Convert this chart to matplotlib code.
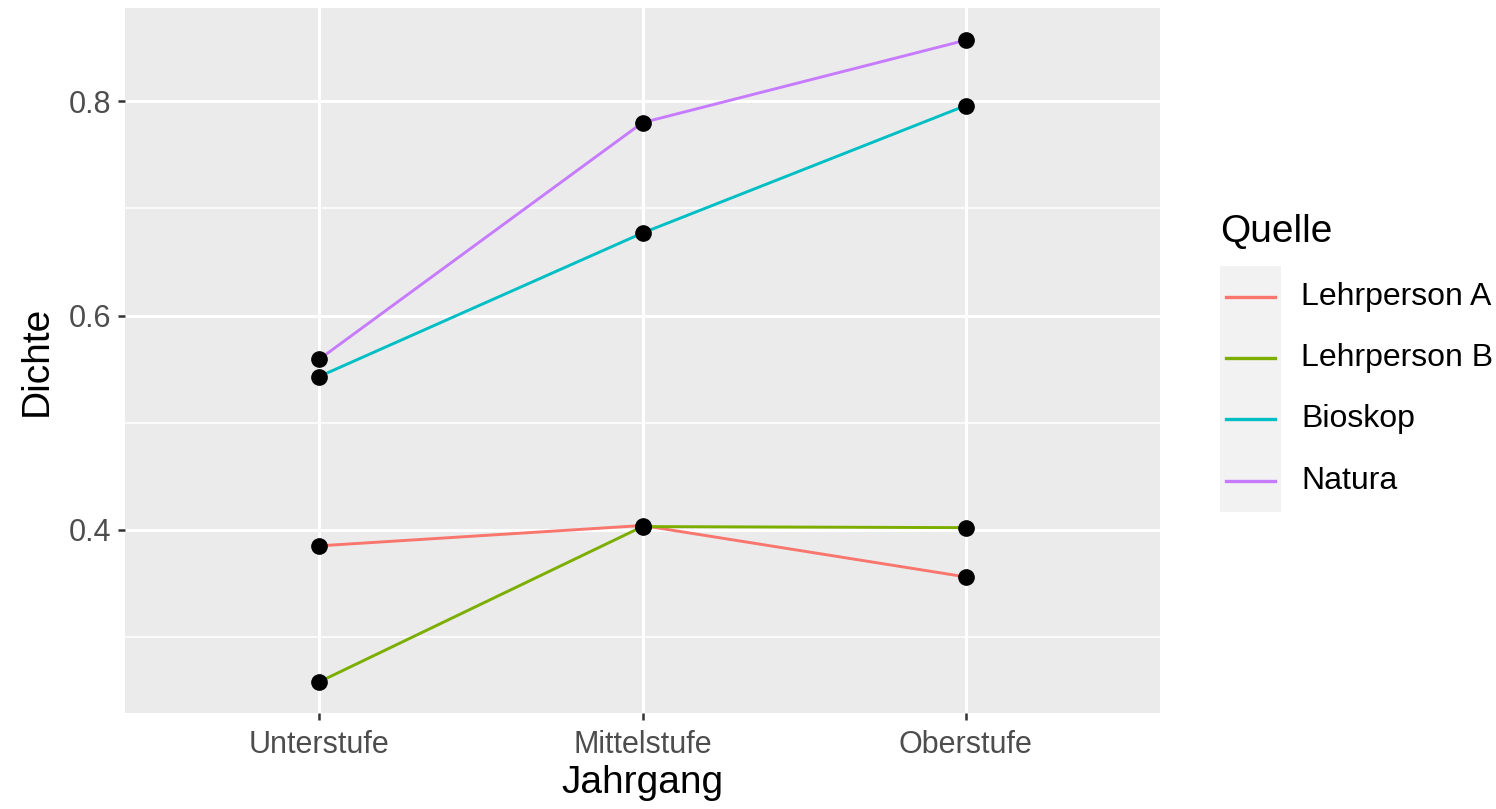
import numpy as np
import matplotlib
matplotlib.use("Agg")
import matplotlib.pyplot as plt
from matplotlib.ticker import MultipleLocator

plt.rcParams['font.family'] = ['Liberation Sans', 'DejaVu Sans']

# data
stufen = ['Unterstufe', 'Mittelstufe', 'Oberstufe']
quellen = ['Lehrperson A', 'Lehrperson B', 'Bioskop', 'Natura']
lehrperson_a = [0.385, 0.404, 0.356]
lehrperson_b = [0.258, 0.403, 0.402]
bioskop = [0.543, 0.677, 0.796]
natura = [0.559, 0.780, 0.857]
farben = ['#F8766D', '#7CAE00', '#00BFC4', '#C77CFF']

serien = [lehrperson_a, lehrperson_b, bioskop, natura]

fig = plt.figure(figsize=(14.96, 8.09), dpi=100)
ax = fig.add_axes([125 / 1496, 1 - 713 / 809, 1035 / 1496, 705 / 809])
ax.set_facecolor('#EBEBEB')
for s in ax.spines.values():
    s.set_visible(False)

x = np.arange(len(stufen))
for werte, farbe in zip(serien, farben):
    ax.plot(x, werte, color=farbe, lw=2.1, zorder=3)
for werte in serien:
    ax.plot(x, werte, 'o', color='black', ms=11, zorder=4)

ax.set_xlim(-0.6, 2.6)
ax.set_ylim(0.229, 0.887)
ax.set_xticks(x)
ax.set_xticklabels(stufen)
ax.yaxis.set_minor_locator(MultipleLocator(0.1))
ax.set_yticks([0.4, 0.6, 0.8])
ax.set_yticklabels(['0.4', '0.6', '0.8'])

ax.grid(which='major', color='white', lw=2.2, zorder=0)
ax.grid(which='minor', axis='y', color='white', lw=1.1, zorder=0)
ax.set_axisbelow(True)
ax.tick_params(which='major', length=5, width=1.8, color='#333333',
               labelcolor='#4D4D4D', labelsize=22, pad=5)
ax.tick_params(axis='x', pad=7)
ax.tick_params(which='minor', length=0)

ax.set_xlabel('Jahrgang', fontsize=28, labelpad=4)
ax.set_ylabel('Dichte', fontsize=28, labelpad=10)

# legend drawn by hand in ggplot style
fig.text(1220 / 1496, 1 - 232 / 809, 'Quelle', fontsize=28, va='center', ha='left')
lax = fig.add_axes([1220 / 1496, 1 - 512 / 809, 61 / 1496, 246 / 809])
lax.set_facecolor('#F2F2F2')
for s in lax.spines.values():
    s.set_visible(False)
lax.set_xticks([])
lax.set_yticks([])
lax.set_xlim(0, 1)
lax.set_ylim(512, 266)
key_y = [297, 358, 419, 481]
for name, farbe, ky in zip(quellen, farben, key_y):
    lax.plot([0.1, 0.9], [ky, ky], color=farbe, lw=2.4)
    fig.text(1301 / 1496, 1 - ky / 809, name, fontsize=23, va='center', ha='left')

fig.savefig('out.png', dpi=100)
